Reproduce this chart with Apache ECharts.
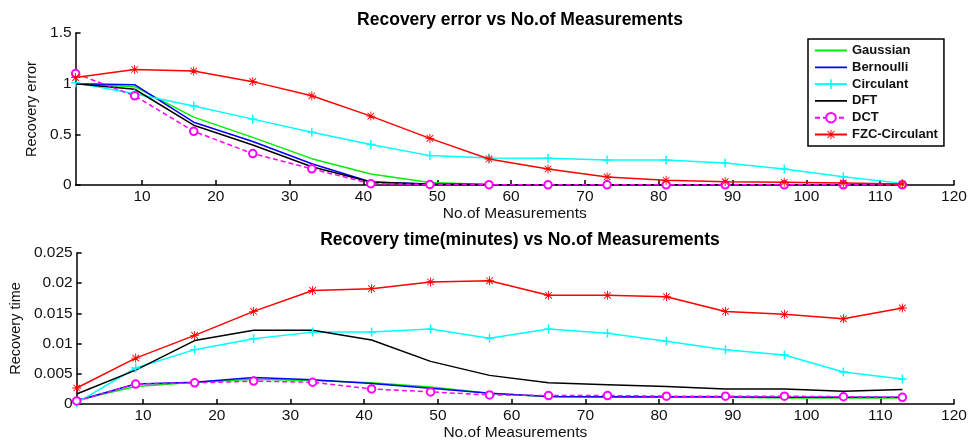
<!DOCTYPE html>
<html>
<head>
<meta charset="utf-8">
<script src="https://cdn.jsdelivr.net/npm/echarts@6/dist/echarts.min.js"></script>
<style>
html,body{margin:0;padding:0;background:#fff;}
#chart{width:970px;height:444px;}
</style>
</head>
<body>
<div id="chart"></div>
<script>
var measurements = [1, 9, 17, 25, 33, 41, 49, 57, 65, 73, 81, 89, 97, 105, 113];
var xTicks = [10, 20, 30, 40, 50, 60, 70, 80, 90, 100, 110, 120];
var seriesNames = ['Gaussian', 'Bernoulli', 'Circulant', 'DFT', 'DCT', 'FZC-Circulant'];

// Recovery error
var errGaussian  = [1.00, 0.97, 0.67, 0.47, 0.26, 0.108, 0.025, 0.005, 0.003, 0.002, 0.002, 0.002, 0.002, 0.002, 0.002];
var errBernoulli = [1.00, 0.99, 0.62, 0.43, 0.21, 0.03, 0.01, 0.004, 0.003, 0.002, 0.002, 0.002, 0.002, 0.002, 0.002];
var errCirculant = [1.01, 0.90, 0.78, 0.65, 0.52, 0.40, 0.29, 0.267, 0.265, 0.247, 0.247, 0.217, 0.158, 0.082, 0.016];
var errDFT       = [1.00, 0.945, 0.59, 0.395, 0.18, 0.03, 0.008, 0.003, 0.002, 0.002, 0.002, 0.002, 0.002, 0.002, 0.002];
var errDCT       = [1.10, 0.88, 0.53, 0.31, 0.16, 0.013, 0.005, 0.003, 0.002, 0.002, 0.002, 0.002, 0.002, 0.002, 0.002];
var errFZC       = [1.06, 1.14, 1.125, 1.02, 0.88, 0.68, 0.46, 0.257, 0.158, 0.08, 0.046, 0.033, 0.027, 0.02, 0.01];

// Recovery time (minutes)
var timeGaussian  = [0.0006, 0.0029, 0.0036, 0.0041, 0.0039, 0.0035, 0.0028, 0.0018, 0.0012, 0.0011, 0.0011, 0.0011, 0.0010, 0.0010, 0.0010];
var timeBernoulli = [0.00055, 0.0033, 0.0036, 0.0044, 0.0040, 0.0034, 0.0026, 0.0018, 0.00126, 0.0012, 0.0012, 0.0012, 0.0011, 0.0011, 0.0011];
var timeCirculant = [0.0002, 0.00596, 0.0090, 0.0108, 0.0119, 0.0119, 0.0124, 0.0109, 0.0124, 0.0117, 0.01037, 0.0090, 0.0081, 0.0053, 0.00414];
var timeDFT       = [0.00165, 0.0056, 0.0105, 0.0122, 0.0122, 0.0106, 0.00706, 0.00474, 0.0035, 0.0032, 0.0029, 0.0025, 0.0025, 0.0021, 0.0024];
var timeDCT       = [0.0005, 0.0033, 0.0035, 0.0038, 0.0036, 0.0025, 0.0020, 0.0015, 0.0014, 0.0014, 0.0013, 0.0013, 0.0013, 0.0012, 0.0011];
var timeFZC       = [0.00265, 0.0076, 0.01136, 0.01533, 0.0188, 0.0191, 0.0202, 0.0204, 0.0180, 0.0180, 0.01776, 0.01533, 0.01484, 0.0141, 0.0159];

var FONT = '"Liberation Sans", Arial, sans-serif';
var PLUS = 'path://M4.2,0H5.8V4.2H10V5.8H5.8V10H4.2V5.8H0V4.2H4.2Z';
var STAR = 'path://M9,0H11V9H20V11H11V20H9V11H0V9H9Z M3.4,2L10,8.6L16.6,2L18,3.4L11.4,10L18,16.6L16.6,18L10,11.4L3.4,18L2,16.6L8.6,10L2,3.4Z';
var LINE_ICON = 'path://M0,0H0.01V12H0Z M0,5.1H32V6.9H0Z';

function pairs(ys) { return measurements.map(function (x, i) { return [x, ys[i]]; }); }

var styles = [
  {color: '#00ee00', symbol: 'none', size: 0, type: 'solid'},
  {color: '#0000ff', symbol: 'none', size: 0, type: 'solid'},
  {color: '#00ffff', symbol: PLUS, size: 9, type: 'solid'},
  {color: '#000000', symbol: 'none', size: 0, type: 'solid'},
  {color: '#ff00ff', symbol: 'emptyCircle', size: 7.5, type: [5, 3]},
  {color: '#ff0000', symbol: STAR, size: 9, type: 'solid'}
];

function makeSeries(dataSets, axisIdx) {
  return dataSets.map(function (d, i) {
    var s = styles[i];
    return {
      name: seriesNames[i],
      type: 'line',
      xAxisIndex: axisIdx,
      yAxisIndex: axisIdx,
      data: pairs(d),
      symbol: s.symbol,
      symbolSize: s.size,
      showSymbol: s.symbol !== 'none',
      showAllSymbol: true,
      color: s.color,
      lineStyle: {color: s.color, width: 1.5, type: s.type},
      itemStyle: {color: s.color, borderColor: s.color, borderWidth: s.symbol === 'emptyCircle' ? 1.5 : 0},
      animation: false,
      z: i === 5 ? 3 : 2
    };
  });
}

var axisLabelStyle = {color: '#111', fontFamily: FONT, fontSize: 15.5};
function xAxisCfg(gridIndex) {
  return {
    type: 'value', gridIndex: gridIndex, min: 1, max: 120,
    name: 'No.of Measurements', nameLocation: 'middle', nameGap: 21,
    nameTextStyle: {color: '#111', fontFamily: FONT, fontSize: 15.5},
    axisLine: {show: true, onZero: false, lineStyle: {color: '#000', width: 1.5}},
    axisTick: {show: true, inside: true, length: 5, customValues: xTicks, lineStyle: {color: '#000', width: 1.5}},
    axisLabel: Object.assign({margin: 4, customValues: xTicks}, axisLabelStyle),
    splitLine: {show: false}
  };
}
function yAxisCfg(gridIndex, max, interval, name, gap) {
  return {
    type: 'value', gridIndex: gridIndex, min: 0, max: max, interval: interval,
    name: name, nameLocation: 'middle', nameGap: gap,
    nameTextStyle: {color: '#111', fontFamily: FONT, fontSize: 14.5},
    axisLine: {show: true, lineStyle: {color: '#000', width: 1.5}},
    axisTick: {show: true, inside: true, length: 5, lineStyle: {color: '#000', width: 1.5}},
    axisLabel: Object.assign({margin: 4}, axisLabelStyle),
    splitLine: {show: false}
  };
}

var legendData = seriesNames.map(function (n, i) {
  return styles[i].symbol === 'none' ? {name: n, icon: LINE_ICON} : {name: n};
});

var chart = echarts.init(document.getElementById('chart'), null, {renderer: 'canvas'});
chart.setOption({
  backgroundColor: '#ffffff',
  animation: false,
  title: [
    {text: 'Recovery error vs No.of Measurements', left: 515, top: 6, textAlign: 'center',
     textStyle: {fontFamily: FONT, fontSize: 17.5, fontWeight: 'bold', color: '#000'}},
    {text: 'Recovery time(minutes) vs No.of Measurements', left: 515, top: 226, textAlign: 'center',
     textStyle: {fontFamily: FONT, fontSize: 17.5, fontWeight: 'bold', color: '#000'}}
  ],
  grid: [
    {left: 75.6, right: 16, top: 33, height: 152},
    {left: 75.6, right: 16, top: 253, height: 151}
  ],
  xAxis: [xAxisCfg(0), xAxisCfg(1)],
  yAxis: [
    yAxisCfg(0, 1.5, 0.5, 'Recovery error', 34),
    yAxisCfg(1, 0.025, 0.005, 'Recovery time', 49)
  ],
  legend: {
    data: legendData,
    orient: 'vertical',
    left: 808, top: 39,
    width: 136,
    padding: [5, 6, 5, 6],
    itemGap: 3.8,
    itemWidth: 32,
    itemHeight: 12,
    borderColor: '#000',
    borderWidth: 1.5,
    backgroundColor: '#fff',
    textStyle: {fontFamily: FONT, fontSize: 13, fontWeight: 'bold', color: '#111'}
  },
  series: makeSeries([errGaussian, errBernoulli, errCirculant, errDFT, errDCT, errFZC], 0)
    .concat(makeSeries([timeGaussian, timeBernoulli, timeCirculant, timeDFT, timeDCT, timeFZC], 1))
});
</script>
</body>
</html>
